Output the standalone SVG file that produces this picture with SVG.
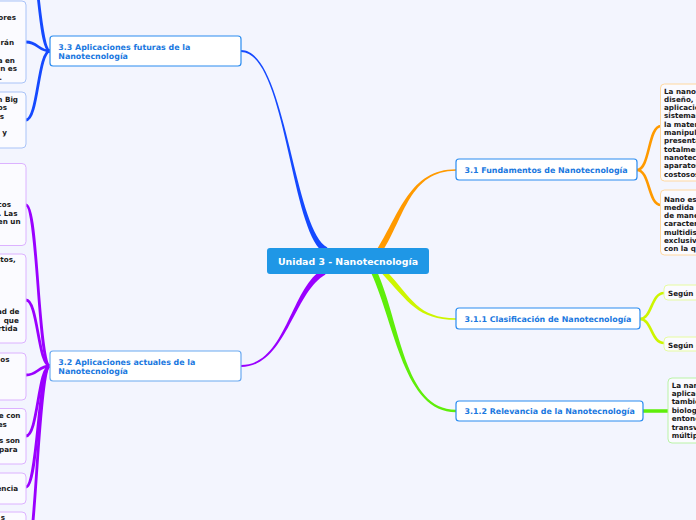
<svg xmlns="http://www.w3.org/2000/svg" width="696" height="520" viewBox="0 0 696 520">
<style>
text{font-family:"DejaVu Sans","Verdana",sans-serif;font-weight:bold}
.sub rect{fill:#ffffff;stroke:#2a8cf0;stroke-width:1.2}
.sub text{fill:#1a78e0;font-size:7.9px}
.leaf text{fill:#1a1a1a;font-size:7.2px}
.leaf rect{stroke-width:1;fill:#fbfbff}
.lb rect{stroke:#a9c3f7}
.lp rect{stroke:#dcb2ff}
.lo rect{stroke:#ffd8a0}
.ly rect{stroke:#e6fba0}
.lg rect{stroke:#b9f3a6}
.end text{text-anchor:end}
.c{fill:none;stroke-linecap:round}
</style>
<rect width="696" height="520" fill="#f3f5fe"/>
<g id="connectors">
  <path d="M327.4,247.4 C293.4,229.4 286,50 241,50 L241,52 C286,52 290.6,234.7 324.6,252.7 Z" fill="#1549ff"/>
  <path d="M322.5,269.4 C290.5,287.4 286,365 241,365 L241,367 C286,367 293.5,292.6 325.5,274.6 Z" fill="#9a00ff"/>
  <path d="M382.5,251.6 C404.5,216.6 410,170.8 456,170.8 L456,169.2 C410,169.2 399.5,213.4 377.5,248.4 Z" fill="#ff9a00"/>
  <path d="M382.2,273.7 C408.2,301.7 418,319.8 456,319.8 L456,318.2 C418,318.2 411.8,298.3 385.8,270.3 Z" fill="#cdf500"/>
  <path d="M371.3,273.2 C395.3,326.2 404,412.2 456,412.2 L456,409.8 C404,409.8 400.7,323.8 376.7,270.8 Z" fill="#5fee0a"/>
  <path class="c" stroke="#1549ff" stroke-width="2.8" d="M50,51 C38,51 38,-60 26,-60"/>
  <path class="c" stroke="#1549ff" stroke-width="2.8" d="M50,51 C38,51 38,42 26,42"/>
  <path class="c" stroke="#1549ff" stroke-width="2.8" d="M50,51 C38,51 38,120 26,120"/>
  <path class="c" stroke="#9a00ff" stroke-width="2.8" d="M50,366 C38,366 38,205 26,205"/>
  <path class="c" stroke="#9a00ff" stroke-width="2.8" d="M50,366 C38,366 38,300 26,300"/>
  <path class="c" stroke="#9a00ff" stroke-width="2.8" d="M50,366 C38,366 38,375 26,375"/>
  <path class="c" stroke="#9a00ff" stroke-width="2.8" d="M50,366 C38,366 38,436 26,436"/>
  <path class="c" stroke="#9a00ff" stroke-width="2.8" d="M50,366 C38,366 38,487 26,487"/>
  <path class="c" stroke="#9a00ff" stroke-width="2.8" d="M50,366 C38,366 36,560 26,560"/>
  <path class="c" stroke="#ff9a00" stroke-width="2.6" d="M637,170 C650,170 648,126 661,126"/>
  <path class="c" stroke="#ff9a00" stroke-width="2.6" d="M637,170 C650,170 648,205 661,205"/>
  <path class="c" stroke="#cdf500" stroke-width="2.6" d="M640,319 C652,319 651,293 664,293"/>
  <path class="c" stroke="#cdf500" stroke-width="2.6" d="M640,319 C652,319 651,343 664,343"/>
  <path class="c" stroke="#5fee0a" stroke-width="3.5" d="M643,411 L668,411"/>
</g>
<g id="center">
  <rect x="267" y="248" width="162" height="26" rx="3" fill="#1f97e6"/>
  <text x="348" y="264.5" text-anchor="middle" fill="#ffffff" font-size="9.4px">Unidad 3 - Nanotecnología</text>
</g>
<g id="n31" class="sub">
  <rect x="456" y="159" width="181" height="21" rx="3"/>
  <text x="464.5" y="172.8">3.1 Fundamentos de Nanotecnología</text>
</g>
<g id="n311" class="sub">
  <rect x="456" y="308" width="184" height="21" rx="3"/>
  <text x="464.5" y="321.8">3.1.1 Clasificación de Nanotecnología</text>
</g>
<g id="n312" class="sub">
  <rect x="456" y="401" width="187" height="20" rx="3"/>
  <text x="464.5" y="413.5">3.1.2 Relevancia de la Nanotecnología</text>
</g>
<g id="n33" class="sub">
  <rect x="50" y="36" width="191" height="30" rx="3"/>
  <text x="58.3" y="49.5">3.3 Aplicaciones futuras de la</text>
  <text x="58.3" y="59.3">Nanotecnología</text>
</g>
<g id="n32" class="sub">
  <rect x="50" y="351" width="191" height="30" rx="3" style="stroke:#6aa9f0"/>
  <text x="58.3" y="364.5">3.2 Aplicaciones actuales de la</text>
  <text x="58.3" y="373.8">Nanotecnología</text>
</g>
<g id="o1" class="leaf lo">
  <rect x="660.5" y="84" width="80" height="97" rx="4"/>
  <text x="664" y="93.5">La nano</text>
  <text x="664" y="101.8">diseño, d</text>
  <text x="664" y="110.1">aplicacio</text>
  <text x="664" y="118.4">sistemas</text>
  <text x="664" y="126.7">la mater</text>
  <text x="664" y="135">manipul</text>
  <text x="664" y="143.3">presenta</text>
  <text x="664" y="151.6">totalmen</text>
  <text x="664" y="159.9">nanotec</text>
  <text x="664" y="168.2">aparatos</text>
  <text x="664" y="176.5">costosos</text>
</g>
<g id="o2" class="leaf lo">
  <rect x="660.5" y="190" width="80" height="65" rx="4"/>
  <text x="664" y="201.5">Nano es</text>
  <text x="664" y="209.8">medida</text>
  <text x="664" y="218.1">de mane</text>
  <text x="664" y="226.4">caracter</text>
  <text x="664" y="234.7">multidis</text>
  <text x="664" y="243">exclusiv</text>
  <text x="664" y="251.3">con la q</text>
</g>
<g id="y1" class="leaf ly">
  <rect x="664" y="285" width="80" height="15" rx="4"/>
  <text x="668" y="296.2">Según l</text>
</g>
<g id="y2" class="leaf ly">
  <rect x="664" y="337" width="80" height="14" rx="4"/>
  <text x="668" y="347.5">Según e</text>
</g>
<g id="g1" class="leaf lg">
  <rect x="668" y="378" width="80" height="65" rx="4"/>
  <text x="671.7" y="387.5">La nan</text>
  <text x="671.7" y="395.9">aplicac</text>
  <text x="671.7" y="404.3">tambié</text>
  <text x="671.7" y="412.7">biolog</text>
  <text x="671.7" y="421.1">entonc</text>
  <text x="671.7" y="429.5">transv</text>
  <text x="671.7" y="437.9">múltip</text>
</g>
<g id="b1" class="leaf lb end">
  <rect x="-100" y="1" width="126" height="82" rx="4"/>
  <text x="16" y="20">ores</text>
  <text x="14" y="45.3">rán</text>
  <text x="15" y="62.6">a en</text>
  <text x="17" y="71">n es</text>
  <text x="2" y="79.5">.</text>
</g>
<g id="b2" class="leaf lb end">
  <rect x="-100" y="92" width="126" height="56" rx="4"/>
  <text x="18" y="101.5">n Big</text>
  <text x="7" y="110">os</text>
  <text x="4" y="118.5">s</text>
  <text x="7" y="134.5">y</text>
</g>
<g id="p1" class="leaf lp end">
  <rect x="-100" y="163.5" width="126" height="82" rx="4"/>
  <text x="11" y="206.8">cos</text>
  <text x="17.5" y="215.6">. Las</text>
  <text x="20.5" y="224.2">en un</text>
</g>
<g id="p2" class="leaf lp end">
  <rect x="-100" y="254" width="126" height="89" rx="4"/>
  <text x="15.7" y="262.3">stos,</text>
  <text x="19.5" y="314">ad de</text>
  <text x="18.8" y="322.5">que</text>
  <text x="17.5" y="331">rtida</text>
</g>
<g id="p3" class="leaf lp end">
  <rect x="-100" y="353" width="126" height="47" rx="4"/>
  <text x="9.5" y="361.8">os</text>
</g>
<g id="p4" class="leaf lp end">
  <rect x="-100" y="408.5" width="126" height="55.5" rx="4"/>
  <text x="20.5" y="418.2">e con</text>
  <text x="6.8" y="426.5">es</text>
  <text x="20" y="442.8">s son</text>
  <text x="17.5" y="451.6">para</text>
</g>
<g id="p5" class="leaf lp end">
  <rect x="-100" y="473" width="126" height="31" rx="4"/>
  <text x="18" y="490.8">encia</text>
</g>
<g id="p6" class="leaf lp end">
  <rect x="-100" y="512" width="126" height="40" rx="4"/>
  <text x="5" y="520">s</text>
</g>
</svg>
